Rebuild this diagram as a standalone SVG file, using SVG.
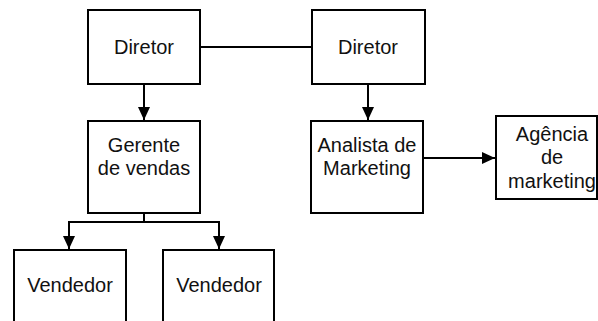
<svg xmlns="http://www.w3.org/2000/svg" width="598" height="321" viewBox="0 0 598 321">
<defs>
<style>
.box{fill:#fff;stroke:#000;stroke-width:2}
.t{font-family:"Liberation Sans",Arial,sans-serif;font-size:20px;fill:#111;text-anchor:middle}
.c{fill:none;stroke:#000;stroke-width:2}
</style>
<marker id="ah" markerWidth="13" markerHeight="12" refX="13" refY="6" orient="auto" markerUnits="userSpaceOnUse">
<path d="M0,0 L13,6 L0,12 Z" fill="#000"/>
</marker>
</defs>
<rect width="598" height="321" fill="#fff"/>
<g id="connectors">
<path class="c" d="M200,47 H312"/>
<path class="c" d="M144,84 V120" marker-end="url(#ah)"/>
<path class="c" d="M368,84 V120" marker-end="url(#ah)"/>
<path class="c" d="M423,158 H495" marker-end="url(#ah)"/>
<path class="c" d="M144,213 V222 H69 V249" marker-end="url(#ah)"/>
<path class="c" d="M144,222 H219 V249" marker-end="url(#ah)"/>
</g>
<g id="diretor1"><rect class="box" x="88" y="10" width="112" height="74"/><text class="t" x="144" y="54">Diretor</text></g>
<g id="diretor2"><rect class="box" x="312" y="10" width="113" height="74"/><text class="t" x="368" y="54">Diretor</text></g>
<g id="gerente"><rect class="box" x="88" y="121" width="112" height="92"/><text class="t" x="144" y="152">Gerente</text><text class="t" x="144" y="175">de vendas</text></g>
<g id="analista"><rect class="box" x="311" y="121" width="112" height="92"/><text class="t" x="367" y="152">Analista de</text><text class="t" x="367" y="175">Marketing</text></g>
<g id="agencia"><rect class="box" x="496" y="116" width="101" height="83"/><text class="t" x="552" y="141">Agência</text><text class="t" x="552" y="164">de</text><text class="t" x="552" y="188">marketing</text></g>
<g id="vendedor1"><rect class="box" x="14" y="250" width="112" height="80"/><text class="t" x="70" y="292">Vendedor</text></g>
<g id="vendedor2"><rect class="box" x="163" y="250" width="111" height="80"/><text class="t" x="219" y="292">Vendedor</text></g>
</svg>
